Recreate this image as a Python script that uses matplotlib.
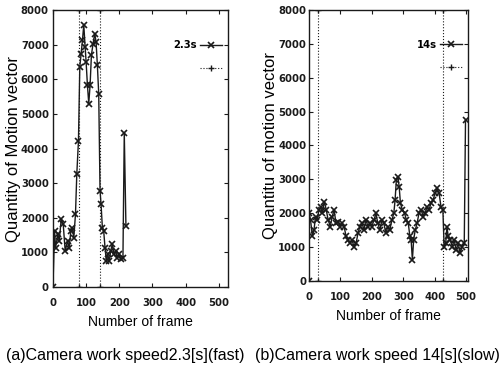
import matplotlib
matplotlib.use("Agg")
import matplotlib.pyplot as plt
from matplotlib import font_manager

# (a) fast camera work, 2.3 s
fast_frame = [0, 5, 8, 15, 19, 25, 31, 37, 44, 49, 54, 58, 63, 68, 72, 77,
              81, 85, 89, 93, 97, 100, 104, 108, 112, 116, 121, 126, 130, 134,
              138, 142, 145, 149, 153, 157, 161, 165, 170, 174, 179, 184, 189,
              194, 199, 205, 211, 215, 220]
fast_motion = [0, 1620, 1140, 1530, 1330, 1960, 1820, 1040, 1330, 1140, 1620,
               1720, 1430, 2110, 3270, 4230, 6360, 6740, 7130, 7570, 6940, 6500,
               5830, 5300, 5830, 6700, 7030, 7320, 7080, 6400, 5580, 2780, 2400,
               1720, 1620, 1140, 750, 950, 750, 1040, 1240, 950, 1040, 850, 950,
               800, 850, 4450, 1770]
fast_cuts = [79, 143]

# (b) slow camera work, 14 s
slow_frame = [0, 1, 5, 11, 16, 21, 26, 32, 37, 42, 49, 55, 61, 68, 74, 80, 86,
              93, 99, 105, 112, 118, 124, 131, 137, 143, 150, 156, 162, 169,
              175, 181, 188, 194, 200, 207, 213, 219, 226, 232, 238, 245, 251,
              257, 264, 270, 274, 278, 283, 287, 291, 297, 304, 310, 316, 321,
              325, 329, 333, 338, 344, 350, 357, 363, 369, 376, 382, 388, 395,
              401, 407, 414, 420, 426, 430, 435, 439, 443, 449, 456, 462, 468,
              475, 481, 487, 494, 498]
slow_motion = [0, 2000, 1800, 1310, 1500, 1900, 1800, 2100, 2190, 2000, 2340,
               2100, 1800, 1600, 1900, 2100, 1700, 1750, 1600, 1700, 1600, 1310,
               1210, 1110, 1210, 1010, 1110, 1410, 1600, 1700, 1500, 1800, 1600,
               1700, 1600, 1800, 2000, 1700, 1500, 1800, 1700, 1410, 1600, 1500,
               1800, 2000, 2390, 2980, 3080, 2780, 2290, 2100, 2000, 1800, 1700,
               1310, 1210, 620, 1210, 1500, 1700, 2000, 2100, 1900, 2000, 2190,
               2100, 2290, 2390, 2590, 2740, 2590, 2190, 2100, 1010, 1110, 1600,
               1310, 1210, 1010, 1210, 910, 1110, 820, 1010, 1110, 4750]
slow_cuts = [28, 427]

x_ticks = [0, 100, 200, 300, 400, 500]
y_ticks = [0, 1000, 2000, 3000, 4000, 5000, 6000, 7000, 8000]

ink = "#1a1a1a"

# narrow bold face for the gnuplot-like tick numbers
narrow = [f.fname for f in font_manager.fontManager.ttflist
          if f.name == "DejaVu Sans" and f.stretch == "condensed"
          and f.weight in (700, "bold")]
if narrow:
    tick_prop = font_manager.FontProperties(fname=narrow[0], size=8)
    leg_prop = font_manager.FontProperties(fname=narrow[0], size=8)
else:
    tick_prop = font_manager.FontProperties(family="DejaVu Sans", size=7,
                                            weight="bold")
    leg_prop = font_manager.FontProperties(family="DejaVu Sans", size=7.5)

label_font = dict(family=["Liberation Sans", "DejaVu Sans"], size=10)
ylab_font = dict(family=["Liberation Sans", "DejaVu Sans"], size=12)

fig = plt.figure(figsize=(5.04, 3.70), dpi=100)
ax1 = fig.add_axes([0.105, 0.224, 0.347, 0.749])
ax2 = fig.add_axes([0.613, 0.241, 0.315, 0.732])


def draw(ax, frames, motion, cuts, name, xmax, ylabel, ylab_x, ypad):
    ax.plot(frames, motion, color=ink, lw=1.0, marker="x", ms=5, mew=1.2,
            label=name)
    first = True
    for c in cuts:
        ax.plot([c, c], [0, 8000], color=ink, lw=0.8, ls=":",
                marker="+", ms=4, label=" " if first else "_nolegend_")
        first = False
    ax.set_xlim(0, xmax)
    ax.set_ylim(0, 8000)
    ax.set_xticks(x_ticks)
    ax.set_yticks(y_ticks)
    ax.set_xticklabels([str(t) for t in x_ticks], fontproperties=tick_prop)
    ax.set_yticklabels([str(t) for t in y_ticks], fontproperties=tick_prop)
    ax.tick_params(direction="in", length=3, width=0.8, top=True, right=True,
                   colors=ink, pad=ypad)
    ax.tick_params(axis="x", pad=8)
    for s in ax.spines.values():
        s.set_color(ink)
        s.set_linewidth(1.0)
    ax.set_ylabel(ylabel, fontdict=ylab_font)
    ax.yaxis.set_label_coords(ylab_x, 0.5)
    ax.set_xlabel("Number of frame", fontdict=label_font, labelpad=5)
    ax.legend(loc="upper right", frameon=False, prop=leg_prop,
              handlelength=2.0, handletextpad=0.3, borderaxespad=0.3,
              borderpad=0.2, markerfirst=False, labelspacing=1.2,
              bbox_to_anchor=(1.0, 0.91))


draw(ax1, fast_frame, fast_motion, fast_cuts, "2.3s", 527,
     "Quantity of Motion vector", -0.18, 3)
draw(ax2, slow_frame, slow_motion, slow_cuts, "14s", 505,
     "Quantitu of motion vector", -0.195, 2)

cap_font = dict(family=["Liberation Sans", "DejaVu Sans"], size=11.5)
fig.text(0.248, 0.028, "(a)Camera work speed2.3[s](fast)", ha="center",
         fontdict=cap_font)
fig.text(0.748, 0.028, "(b)Camera work speed 14[s](slow)", ha="center",
         fontdict=cap_font)

fig.savefig("out.png", dpi=100)
